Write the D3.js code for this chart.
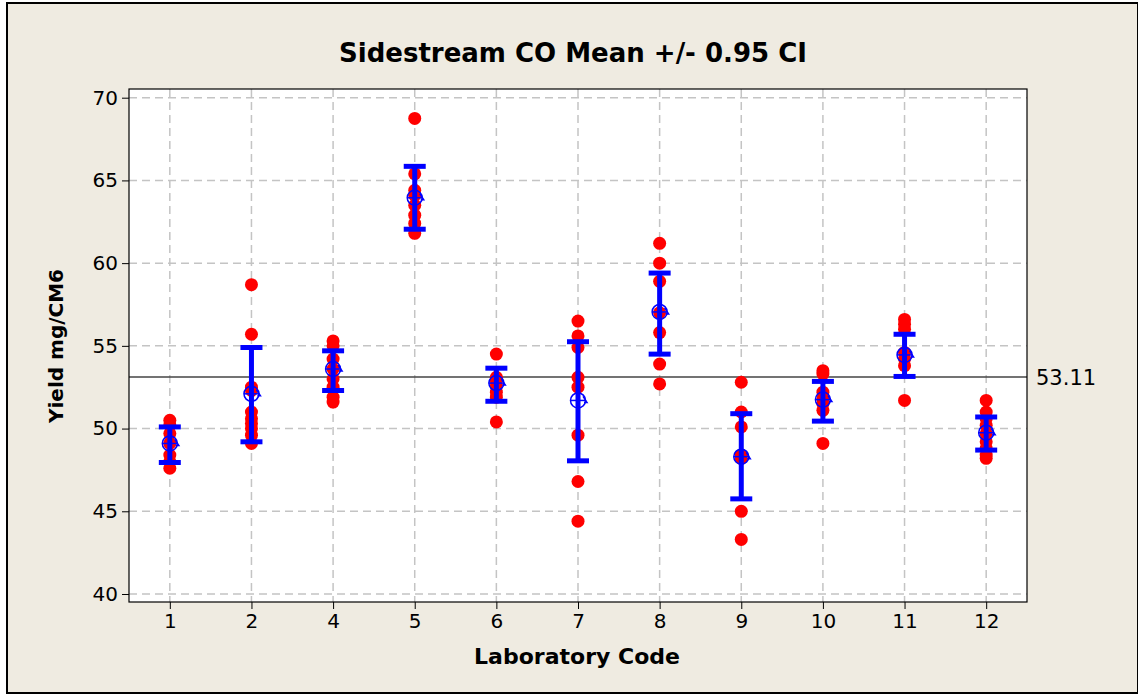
<!DOCTYPE html>
<html><head><meta charset="utf-8">
<script src="https://cdn.jsdelivr.net/npm/d3@7"></script>
<style>body{margin:0;background:#fff;} svg{display:block;}</style>
</head><body>
<svg id="c" width="1138" height="694"></svg>
<script>
const labs = ["1","2","4","5","6","7","8","9","10","11","12"];
const obs1 = [50.5, 50.2, 49.7, 49.1, 48.4, 48.0, 47.6];
const obs2 = [58.7, 55.7, 52.5, 52.3, 51.0, 50.6, 50.3, 50.0, 49.6, 49.1];
const obs4 = [55.3, 55.0, 54.2, 53.6, 53.0, 52.5, 51.9, 51.6];
const obs5 = [68.75, 65.4, 64.4, 64.1, 63.5, 62.9, 62.4, 61.8];
const obs6 = [54.5, 53.1, 53.0, 52.9, 52.6, 52.2, 51.9, 50.4];
const obs7 = [56.5, 55.6, 54.9, 53.1, 52.5, 49.6, 46.8, 44.4];
const obs8 = [61.2, 60.0, 58.9, 57.0, 55.8, 53.9, 52.7];
const obs9 = [52.8, 51.0, 50.1, 48.4, 48.2, 45.0, 43.3];
const obs10 = [53.5, 53.3, 52.2, 51.8, 51.5, 51.1, 49.1];
const obs11 = [56.6, 56.3, 56.0, 54.6, 54.2, 53.8, 51.7];
const obs12 = [51.7, 51.0, 50.6, 50.2, 49.7, 49.2, 48.8, 48.4, 48.2];
const observations = [obs1, obs2, obs4, obs5, obs6, obs7, obs8, obs9, obs10, obs11, obs12];
const means  = [49.1, 52.1, 53.6, 63.95, 52.75, 51.7, 57.05, 48.3, 51.75, 54.45, 49.75];
const ciLow  = [47.95, 49.2, 52.3, 62.05, 51.65, 48.05, 54.5, 45.75, 50.45, 53.15, 48.7];
const ciHigh = [50.1, 54.9, 54.7, 65.85, 53.65, 55.25, 59.4, 50.9, 52.85, 55.7, 50.7];
const refValue = 53.11;
const yTicks = [40, 45, 50, 55, 60, 65, 70];

const svg = d3.select("#c");
const font = "Verdana, 'DejaVu Sans', sans-serif";
svg.append("rect").attr("x",7).attr("y",3).attr("width",1131).attr("height",690)
  .attr("fill","#EFEBE1").attr("stroke","#000").attr("stroke-width",2);

const L=129, R=1027, T=89, B=602;
svg.append("rect").attr("x",L).attr("y",T).attr("width",R-L).attr("height",B-T).attr("fill","#fff");

const x = d3.scalePoint().domain(labs).range([L,R]).padding(0.5);
const y = d3.scaleLinear().domain([40,70]).range([594,97.7]);

const g = svg.append("g");
g.selectAll("line.hg").data(yTicks).join("line")
  .attr("x1",L).attr("x2",R).attr("y1",d=>y(d)).attr("y2",d=>y(d))
  .attr("stroke","#c4c4c4").attr("stroke-width",1.5).attr("stroke-dasharray","8,5");
g.selectAll("line.vg").data(labs).join("line")
  .attr("x1",d=>x(d)).attr("x2",d=>x(d)).attr("y1",T).attr("y2",B)
  .attr("stroke","#c4c4c4").attr("stroke-width",1.5).attr("stroke-dasharray","8,5");

svg.append("line").attr("x1",L).attr("x2",R).attr("y1",y(refValue)).attr("y2",y(refValue))
  .attr("stroke","#444").attr("stroke-width",1.5);
svg.append("text").attr("x",1036).attr("y",y(refValue)+8).text(refValue.toFixed(2))
  .attr("font-family",font).attr("font-size",21).attr("fill","#000");

labs.forEach((lab,i)=>{
  svg.append("g").selectAll("circle").data(observations[i]).join("circle")
    .attr("cx",x(lab)).attr("cy",d=>y(d)).attr("r",6.5).attr("fill","#FF0000");
});

const ci = svg.append("g").attr("stroke","#0000FF").attr("stroke-width",5);
labs.forEach((lab,i)=>{
  const cx=x(lab);
  ci.append("line").attr("x1",cx).attr("x2",cx).attr("y1",y(ciHigh[i])).attr("y2",y(ciLow[i]));
  ci.append("line").attr("x1",cx-11).attr("x2",cx+11).attr("y1",y(ciHigh[i])).attr("y2",y(ciHigh[i]));
  ci.append("line").attr("x1",cx-11).attr("x2",cx+11).attr("y1",y(ciLow[i])).attr("y2",y(ciLow[i]));
});
const ms = svg.append("g").attr("stroke","#0000FF").attr("stroke-width",1.5).attr("fill","none");
labs.forEach((lab,i)=>{
  const cx=x(lab), cy=y(means[i]);
  ms.append("circle").attr("cx",cx).attr("cy",cy).attr("r",7.5);
  ms.append("line").attr("x1",cx-7.5).attr("x2",cx+7.5).attr("y1",cy).attr("y2",cy);
  ms.append("line").attr("x1",cx).attr("x2",cx).attr("y1",cy-7.5).attr("y2",cy+7.5);
  ms.append("path").attr("d",`M${cx+5},${cy-4} L${cx+9},${cy+2} L${cx+6},${cy+2}`);
});

svg.append("rect").attr("x",L).attr("y",T).attr("width",R-L).attr("height",B-T)
  .attr("fill","none").attr("stroke","#000").attr("stroke-width",1.2);

const ya = svg.append("g").attr("transform",`translate(${L},0)`)
  .call(d3.axisLeft(y).tickValues(yTicks).tickSize(7).tickPadding(4).tickFormat(d3.format("d")));
ya.select(".domain").remove();
ya.selectAll("text").attr("font-family",font).attr("font-size",20).attr("fill","#000");
ya.selectAll("line").attr("stroke","#000");
const xa = svg.append("g").attr("transform",`translate(0,${B})`)
  .call(d3.axisBottom(x).tickSize(7).tickPadding(5));
xa.select(".domain").remove();
xa.selectAll("text").attr("font-family",font).attr("font-size",20).attr("fill","#000");
xa.selectAll("line").attr("stroke","#000");

svg.append("text").attr("x",573).attr("y",62).attr("text-anchor","middle")
  .attr("font-family",font).attr("font-weight","bold").attr("font-size",26)
  .text("Sidestream CO Mean +/- 0.95 CI");
svg.append("text").attr("x",577).attr("y",664).attr("text-anchor","middle")
  .attr("font-family",font).attr("font-weight","bold").attr("font-size",22)
  .text("Laboratory Code");
svg.append("text").attr("transform","translate(63,346) rotate(-90)").attr("text-anchor","middle")
  .attr("font-family",font).attr("font-weight","bold").attr("font-size",20)
  .text("Yield mg/CM6");
</script>
</body></html>
